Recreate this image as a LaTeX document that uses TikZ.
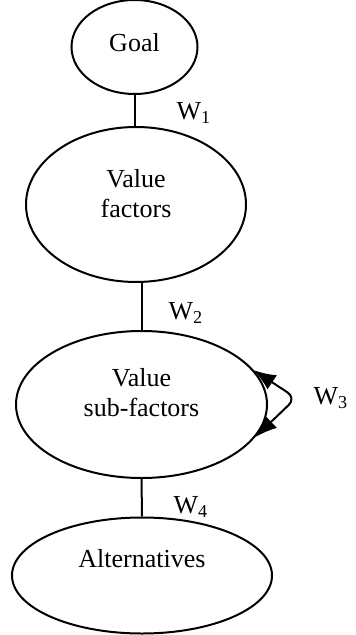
\documentclass[tikz,border=0pt]{standalone}
\usepackage{fontspec}
\setmainfont{Liberation Serif}
\newfontfamily\diagfont{Liberation Serif}
\usetikzlibrary{shapes.geometric,arrows.meta,positioning}

\tikzset{
    bubble/.style={ellipse,draw,line width=1pt,inner sep=0pt},
    txt/.style={align=center,inner sep=0pt,font=\diagfont\fontsize{13}{15}\selectfont},
    wlabel/.style={inner sep=0pt,font=\diagfont\fontsize{13}{15}\selectfont},
    twotip/.style={{Latex[length=11pt,width=8.5pt]}-{Latex[length=11pt,width=8.5pt]}}
}

\begin{document}
\begin{tikzpicture}[x=0.5pt,y=-0.5pt]
    \useasboundingbox (0,0) rectangle (355,635);
    \node[bubble,minimum width=63pt,minimum height=47pt] (goal) at (134.5,47) {};
    \node[txt] (goaltxt) at ([yshift=2pt]goal.center) {Goal};
    \node[bubble,minimum width=110pt,minimum height=77.5pt] (vfact) at (136,204.5) {};
    \node[txt] (vfacttxt) at ([yshift=5.5pt]vfact.center) {Value\\factors};
    \node[bubble,minimum width=125.5pt,minimum height=73.5pt] (vsub) at (141.5,404.5) {};
    \node[txt] (vsubtxt) at ([yshift=6pt]vsub.center) {Value\\sub-factors};
    \node[bubble,minimum width=130pt,minimum height=58pt] (alt) at (142,575.5) {};
    \node[txt] (alttxt) at ([yshift=8.5pt]alt.center) {Alternatives};
    %%
    \draw[line width=1pt] (goal.south) -- (goal.south |- vfact.north);
    \draw[line width=1pt] (vsub.north |- vfact.south) -- (vsub.north);
    \draw[line width=1pt] (vsub.south) -- (alt.north);
    \coordinate (bend) at (296,398);
    \draw[line width=1pt,twotip,rounded corners=5pt]
        (vsub.17) -- (bend) -- (vsub.-16);
    %%
    \node[wlabel] (w1) at (194,113) {W\textsubscript{1}};
    \node[wlabel] (w2) at (186,313) {W\textsubscript{2}};
    \node[wlabel] (w3) at (331,398) {W\textsubscript{3}};
    \node[wlabel] (w4) at (191,507) {W\textsubscript{4}};
\end{tikzpicture}
\end{document}
